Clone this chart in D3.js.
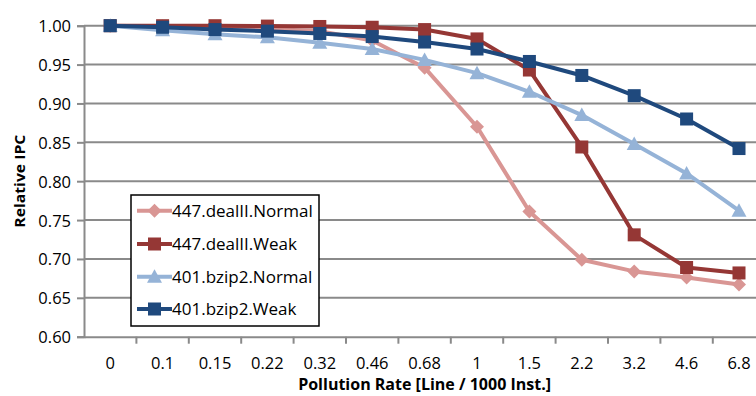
<!DOCTYPE html>
<html>
<head>
<meta charset="utf-8">
<script src="https://cdn.jsdelivr.net/npm/d3@7"></script>
<style>
  html, body { margin: 0; padding: 0; background: #fff; }
  svg { display: block; }
  text { font-family: "Open Sans", "Liberation Sans", sans-serif; fill: #000; }
</style>
</head>
<body>
<svg id="chart" width="756" height="396"></svg>
<script>
// Pollution rate categories (lines per 1000 instructions)
const categories = ["0", "0.1", "0.15", "0.22", "0.32", "0.46", "0.68", "1", "1.5", "2.2", "3.2", "4.6", "6.8"];

// Relative IPC per benchmark / mode
const dealNormal = [1.000, 0.999, 0.998, 0.996, 0.993, 0.981, 0.946, 0.870, 0.761, 0.699, 0.684, 0.676, 0.667];
const dealWeak   = [1.000, 1.000, 1.000, 0.9995, 0.999, 0.998, 0.995, 0.983, 0.943, 0.844, 0.731, 0.689, 0.682];
const bzipNormal = [1.000, 0.994, 0.989, 0.985, 0.978, 0.970, 0.956, 0.939, 0.915, 0.885, 0.848, 0.810, 0.762];
const bzipWeak   = [1.000, 0.998, 0.995, 0.993, 0.990, 0.986, 0.979, 0.970, 0.954, 0.936, 0.910, 0.880, 0.842];

const seriesNames = ["447.dealII.Normal", "447.dealII.Weak", "401.bzip2.Normal", "401.bzip2.Weak"];
const yTicks = [0.60, 0.65, 0.70, 0.75, 0.80, 0.85, 0.90, 0.95, 1.00];

const series = [
  { name: seriesNames[0], values: dealNormal, color: "#D99694", marker: "diamond" },
  { name: seriesNames[1], values: dealWeak,   color: "#953735", marker: "square" },
  { name: seriesNames[2], values: bzipNormal, color: "#95B3D7", marker: "triangle" },
  { name: seriesNames[3], values: bzipWeak,   color: "#1F497D", marker: "square" }
];

const svg = d3.select("#chart");
const plotLeft = 84, plotRight = 765.2, plotTop = 25.7, plotBottom = 336.7;
const gridColor = "#8a8a8a";

const x = d3.scaleBand().domain(categories).range([plotLeft, plotRight]).padding(0);
const y = d3.scaleLinear().domain([0.60, 1.00]).range([plotBottom, plotTop]);
const cx = c => x(c) + x.bandwidth() / 2;

// horizontal gridlines
svg.append("g").selectAll("line")
  .data(yTicks.filter(t => t > 0.6))
  .join("line")
  .attr("x1", plotLeft).attr("x2", plotRight)
  .attr("y1", d => y(d)).attr("y2", d => y(d))
  .attr("stroke", gridColor).attr("stroke-width", 2);

// y axis
const yAxis = svg.append("g")
  .attr("transform", `translate(${plotLeft},0)`)
  .call(d3.axisLeft(y).tickValues(yTicks).tickFormat(d3.format(".2f")).tickSize(7).tickPadding(6));
yAxis.select(".domain").attr("stroke", gridColor).attr("stroke-width", 2);
yAxis.selectAll(".tick line").attr("stroke", gridColor).attr("stroke-width", 2);
yAxis.selectAll(".tick text").style("font-size", "16.5px").attr("dy", "0.36em")
  .style("font-family", "'Open Sans', sans-serif").attr("fill", "#000");

// x axis: labels centred in each band, tick marks on band boundaries
const xAxis = svg.append("g")
  .attr("transform", `translate(0,${plotBottom})`)
  .call(d3.axisBottom(x).tickSize(0).tickPadding(21));
xAxis.select(".domain").attr("stroke", gridColor).attr("stroke-width", 2);
xAxis.selectAll(".tick text").style("font-size", "16.5px")
  .style("font-family", "'Open Sans', sans-serif").attr("fill", "#000");
xAxis.append("g").selectAll("line")
  .data(categories.map(c => x(c) + x.bandwidth()))
  .join("line")
  .attr("x1", d => d).attr("x2", d => d)
  .attr("y1", 0).attr("y2", 7)
  .attr("stroke", gridColor).attr("stroke-width", 2);

// axis titles
svg.append("text")
  .attr("x", (plotLeft + plotRight) / 2).attr("y", 390)
  .attr("text-anchor", "middle")
  .style("font-size", "16px").style("font-weight", "bold")
  .text("Pollution Rate [Line / 1000 Inst.]");
svg.append("text")
  .attr("transform", `translate(25,${(plotTop + plotBottom) / 2}) rotate(-90)`)
  .attr("text-anchor", "middle")
  .attr("textLength", 93).attr("lengthAdjust", "spacingAndGlyphs")
  .style("font-size", "15px").style("font-weight", "bold")
  .text("Relative IPC");

// marker shapes
function drawMarker(g, type, color, px, py) {
  if (type === "square") {
    g.append("rect").attr("x", px - 6.5).attr("y", py - 6.5)
      .attr("width", 13).attr("height", 13).attr("fill", color);
  } else if (type === "diamond") {
    const s = 7;
    g.append("path").attr("d", `M${px},${py - s}L${px + s},${py}L${px},${py + s}L${px - s},${py}Z`)
      .attr("fill", color);
  } else {
    const s = 7.5;
    g.append("path").attr("d", `M${px},${py - s}L${px + s},${py + s * 0.8}L${px - s},${py + s * 0.8}Z`)
      .attr("fill", color);
  }
}

const line = d3.line().x((d, i) => cx(categories[i])).y(d => y(d));

const plot = svg.append("g");
series.forEach(s => {
  const g = plot.append("g");
  g.append("path").datum(s.values)
    .attr("d", line)
    .attr("fill", "none").attr("stroke", s.color)
    .attr("stroke-width", 4).attr("stroke-linejoin", "round");
  s.values.forEach((v, i) => drawMarker(g, s.marker, s.color, cx(categories[i]), y(v)));
});

// legend
const lg = svg.append("g");
lg.append("rect").attr("x", 131).attr("y", 195).attr("width", 188).attr("height", 131)
  .attr("fill", "#fff").attr("stroke", "#000").attr("stroke-width", 1.5);
const legendY = [210.7, 244, 276.7, 309];
series.forEach((s, i) => {
  const ly = legendY[i];
  const g = lg.append("g");
  g.append("line").attr("x1", 137).attr("x2", 172).attr("y1", ly).attr("y2", ly)
    .attr("stroke", s.color).attr("stroke-width", 4);
  drawMarker(g, s.marker, s.color, 154.5, ly);
  g.append("text").attr("x", 172).attr("y", ly).attr("dy", "0.36em")
    .style("font-size", "17px").text(s.name);
});
</script>
</body>
</html>
